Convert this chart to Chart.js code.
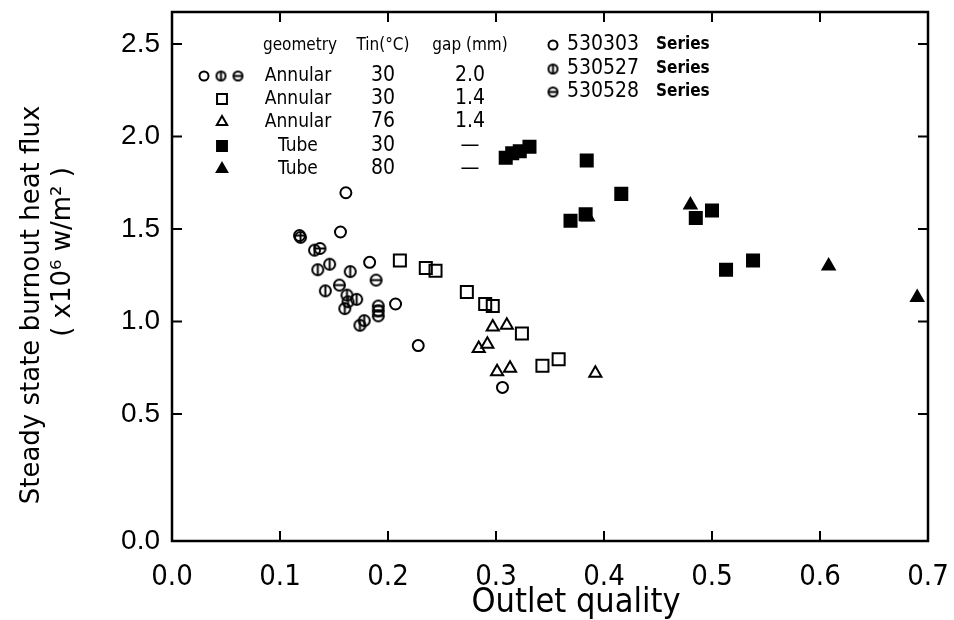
<!DOCTYPE html>
<html>
<head>
<meta charset="utf-8">
<script src="https://cdn.jsdelivr.net/npm/chart.js@4.4.1/dist/chart.umd.min.js"></script>
<style>
  html, body { margin: 0; padding: 0; background: #fff; }
</style>
</head>
<body>
<canvas id="chart" width="954" height="620"></canvas>
<script>
// Dados (x = outlet quality, y = heat flux x10^6 W/m2)
const s530303X = [0.161, 0.156, 0.183, 0.207, 0.228, 0.306];
const s530303Y = [1.696, 1.484, 1.32, 1.095, 0.87, 0.644];

const s530527X = [0.119, 0.132, 0.135, 0.146, 0.165, 0.142, 0.162, 0.171, 0.160, 0.163, 0.174, 0.178];
const s530527Y = [1.455, 1.386, 1.28, 1.31, 1.27, 1.166, 1.143, 1.12, 1.07, 1.107, 0.98, 1.005];

const s530528X = [0.118, 0.137, 0.155, 0.189, 0.191, 0.191, 0.191];
const s530528Y = [1.465, 1.395, 1.197, 1.224, 1.084, 1.058, 1.031];

const annular14X = [0.211, 0.235, 0.244, 0.273, 0.290, 0.297, 0.324, 0.343, 0.358];
const annular14Y = [1.33, 1.29, 1.275, 1.16, 1.095, 1.084, 0.936, 0.761, 0.796];

const annular76X = [0.297, 0.310, 0.284, 0.292, 0.301, 0.313, 0.392];
const annular76Y = [0.97, 0.98, 0.855, 0.877, 0.729, 0.747, 0.72];

const tube30X = [0.309, 0.315, 0.322, 0.331, 0.384, 0.416, 0.369, 0.383, 0.485, 0.500, 0.513, 0.538];
const tube30Y = [1.885, 1.91, 1.92, 1.945, 1.87, 1.69, 1.545, 1.58, 1.56, 1.60, 1.28, 1.33];

const tube80X = [0.385, 0.480, 0.608, 0.690];
const tube80Y = [1.565, 1.63, 1.30, 1.13];

const xTicks = [0.0, 0.1, 0.2, 0.3, 0.4, 0.5, 0.6, 0.7];
const yTicks = [0.5, 1.0, 1.5, 2.0, 2.5];
// no original o rótulo "0.0" fica no canto de baixo do quadro, abaixo do passo regular
const yBottom = -0.186;
const yTop = 2.673;

const legendRows = [
    ['Annular', '30', '2.0'],
    ['Annular', '30', '1.4'],
    ['Annular', '76', '1.4'],
    ['Tube', '30', '—'],
    ['Tube', '80', '—'],
];
const seriesNames = ['530303', '530527', '530528'];

function toPoints(xs, ys) {
    return xs.map((x, i) => ({ x: x, y: ys[i] }));
}

// Marcadores: círculo com barra vertical / horizontal
function ringMarker(bar, r) {
    const size = Math.ceil(r * 2 + 4);
    const c = document.createElement('canvas');
    c.width = size; c.height = size;
    const g = c.getContext('2d');
    const m = size / 2;
    g.strokeStyle = '#000';
    g.lineWidth = 2;
    g.beginPath();
    g.arc(m, m, r, 0, Math.PI * 2);
    g.stroke();
    g.beginPath();
    if (bar === 'v') { g.moveTo(m, m - r); g.lineTo(m, m + r); }
    if (bar === 'h') { g.moveTo(m - r, m); g.lineTo(m + r, m); }
    g.stroke();
    return c;
}

const ringV = ringMarker('v', 5.5);
const ringH = ringMarker('h', 5.5);
const ringVs = ringMarker('v', 4.5);
const ringHs = ringMarker('h', 4.5);

const fontMain = '"Liberation Sans Narrow", "DejaVu Sans Condensed", sans-serif';

// Moldura, marcas para dentro e títulos dos eixos
const framePlugin = {
    id: 'frame',
    afterDatasetsDraw(chart) {
        const { ctx, chartArea: a, scales } = chart;
        ctx.save();
        ctx.strokeStyle = '#000';
        ctx.lineWidth = 2.5;
        ctx.strokeRect(a.left, a.top, a.right - a.left, a.bottom - a.top);
        ctx.lineWidth = 2;
        const len = 10;
        ctx.beginPath();
        xTicks.forEach(v => {
            const px = scales.x.getPixelForValue(v);
            ctx.moveTo(px, a.bottom); ctx.lineTo(px, a.bottom - len);
            ctx.moveTo(px, a.top); ctx.lineTo(px, a.top + len);
        });
        yTicks.forEach(v => {
            const py = scales.y.getPixelForValue(v);
            ctx.moveTo(a.left, py); ctx.lineTo(a.left + len, py);
            ctx.moveTo(a.right, py); ctx.lineTo(a.right - len, py);
        });
        ctx.stroke();

        ctx.fillStyle = '#000';
        ctx.textAlign = 'center';
        ctx.textBaseline = 'middle';
        ctx.font = '34px ' + fontMain;
        ctx.fillText('Outlet quality', 576, 603);

        ctx.font = '26px "DejaVu Sans", sans-serif';
        ctx.translate(32, 305);
        ctx.rotate(-Math.PI / 2);
        ctx.fillText('Steady state burnout heat flux', 0, 0);
        ctx.rotate(Math.PI / 2);
        ctx.translate(31, -53);
        ctx.rotate(-Math.PI / 2);
        ctx.fillText('( x10⁶ w/m² )', 0, 0);
        ctx.restore();
    }
};

// Legenda em forma de tabela
const tablePlugin = {
    id: 'tableLegend',
    afterDatasetsDraw(chart) {
        const ctx = chart.ctx;
        const ds = chart.data.datasets;
        ctx.save();
        ctx.fillStyle = '#000';
        ctx.strokeStyle = '#000';
        ctx.font = '17px ' + fontMain;
        ctx.textBaseline = 'middle';
        ctx.textAlign = 'center';
        ctx.fillText('geometry', 300, 46);
        ctx.fillText('Tin(°C)', 383, 46);
        ctx.fillText('gap (mm)', 470, 46);
        const rowY = [76, 99, 122, 146, 169];
        legendRows.forEach((row, i) => {
            ctx.font = '19px ' + fontMain;
            ctx.fillText(row[0], 298, rowY[i]);
            ctx.font = '21px ' + fontMain;
            ctx.fillText(row[1], 383, rowY[i]);
            ctx.fillText(row[2], 470, rowY[i]);
        });
        const draw = (d, x, y, r) => {
            ctx.fillStyle = d.backgroundColor;
            ctx.strokeStyle = '#000';
            ctx.lineWidth = 2;
            Chart.helpers.drawPoint(ctx, { pointStyle: d.pointStyle, radius: r, rotation: 0, borderWidth: 2 }, x, y);
        };
        ctx.beginPath();
        ctx.lineWidth = 2;
        ctx.arc(204, rowY[0], 4.5, 0, Math.PI * 2);
        ctx.stroke();
        ctx.drawImage(ringVs, 221 - ringVs.width / 2, rowY[0] - ringVs.height / 2);
        ctx.drawImage(ringHs, 238 - ringHs.width / 2, rowY[0] - ringHs.height / 2);
        draw(ds[3], 222, rowY[1], 7);
        draw(ds[4], 222, rowY[2], 6);
        draw(ds[5], 222, rowY[3], 7);
        draw(ds[6], 222, rowY[4], 6);

        // Séries
        const sy = [45, 69, 92];
        ctx.fillStyle = '#000';
        ctx.textAlign = 'left';
        seriesNames.forEach((n, i) => {
            ctx.font = '21px ' + fontMain;
            ctx.fillText(n, 567, sy[i]);
            ctx.font = 'bold 17px ' + fontMain;
            ctx.fillText('Series', 656, sy[i]);
        });
        ctx.beginPath();
        ctx.arc(553, sy[0], 4.5, 0, Math.PI * 2);
        ctx.stroke();
        ctx.drawImage(ringVs, 553 - ringVs.width / 2, sy[1] - ringVs.height / 2);
        ctx.drawImage(ringHs, 553 - ringHs.width / 2, sy[2] - ringHs.height / 2);
        ctx.restore();
    }
};

const base = { showLine: false, borderColor: '#000', borderWidth: 2, hoverRadius: 6 };

new Chart(document.getElementById('chart').getContext('2d'), {
    type: 'scatter',
    data: {
        datasets: [
            { ...base, label: '530303', data: toPoints(s530303X, s530303Y), pointStyle: 'circle', pointRadius: 5.5, backgroundColor: 'rgba(0,0,0,0)' },
            { ...base, label: '530527', data: toPoints(s530527X, s530527Y), pointStyle: ringV, backgroundColor: 'rgba(0,0,0,0)' },
            { ...base, label: '530528', data: toPoints(s530528X, s530528Y), pointStyle: ringH, backgroundColor: 'rgba(0,0,0,0)' },
            { ...base, label: 'Annular 30 1.4', data: toPoints(annular14X, annular14Y), pointStyle: 'rect', pointRadius: 8.5, backgroundColor: 'rgba(0,0,0,0)' },
            { ...base, label: 'Annular 76 1.4', data: toPoints(annular76X, annular76Y), pointStyle: 'triangle', pointRadius: 7, backgroundColor: 'rgba(0,0,0,0)' },
            { ...base, label: 'Tube 30', data: toPoints(tube30X, tube30Y), pointStyle: 'rect', pointRadius: 8.5, backgroundColor: '#000' },
            { ...base, label: 'Tube 80', data: toPoints(tube80X, tube80Y), pointStyle: 'triangle', pointRadius: 7, backgroundColor: '#000' },
        ],
    },
    options: {
        responsive: false,
        animation: false,
        layout: { padding: { top: 12, right: 26, left: 0, bottom: 0 } },
        plugins: {
            legend: { display: false },
            tooltip: { enabled: false },
        },
        scales: {
            x: {
                type: 'linear',
                min: 0,
                max: 0.7,
                grid: { display: false, drawTicks: false },
                border: { display: false },
                afterBuildTicks: s => { s.ticks = xTicks.map(v => ({ value: v })); },
                afterFit: s => { s.height = 79; s.paddingLeft = 0; s.paddingRight = 0; },
                ticks: {
                    padding: 19,
                    color: '#000',
                    font: { family: fontMain, size: 29 },
                    callback: v => v.toFixed(1),
                },
            },
            y: {
                type: 'linear',
                min: yBottom,
                max: yTop,
                grid: { display: false, drawTicks: false },
                border: { display: false },
                afterBuildTicks: s => { s.ticks = [yBottom, ...yTicks].map(v => ({ value: v })); },
                afterFit: s => { s.width = 172; s.paddingTop = 0; s.paddingBottom = 0; },
                ticks: {
                    padding: 12,
                    color: '#000',
                    font: { family: '"Liberation Sans", sans-serif', size: 28 },
                    callback: v => (v < 0 ? '0.0' : v.toFixed(1)),
                },
            },
        },
    },
    plugins: [framePlugin, tablePlugin],
});
</script>
</body>
</html>
